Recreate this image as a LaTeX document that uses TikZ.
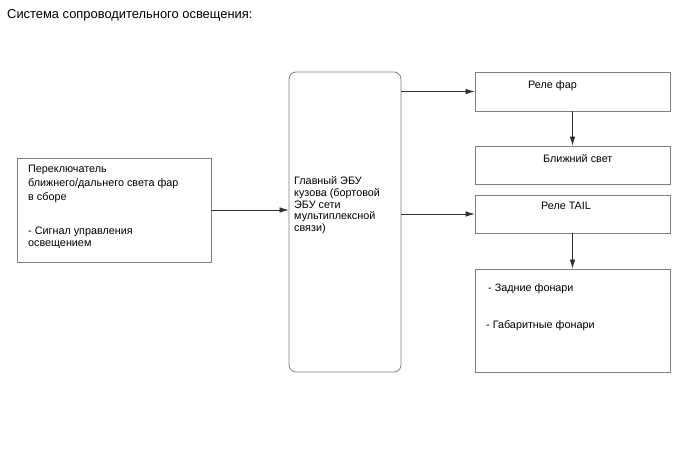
\documentclass[tikz,border=0pt]{standalone}
\usepackage{fontspec}
\setmainfont{Liberation Sans}
\usetikzlibrary{arrows.meta}
\definecolor{boxgray}{HTML}{808080}
\definecolor{linegray}{HTML}{303030}
\begin{document}
\begin{tikzpicture}[x=1pt,y=-1pt,
  box/.style={draw=boxgray, line width=0.8pt, inner sep=0pt, fill=white},
  conn/.style={draw=linegray, line width=0.7pt, -{Latex[length=9pt,width=5.5pt]}},
  txt/.style={font=\fontsize{10.8}{11.7}\selectfont, inner sep=0pt, anchor=base west, align=left},
  ]
\useasboundingbox[fill=white] (0,0) rectangle (688,463);

\node[inner sep=0pt, anchor=base west, font=\fontsize{12.9}{14}\selectfont] (title) at (7,19) {Система сопроводительного освещения:};

\node[box, minimum width=194pt, minimum height=104pt] (sw) at (114,210) {};
\node[box, rounded corners=7pt, minimum width=112pt, minimum height=300pt] (ecu) at (345,222) {};
\node[box, minimum width=195pt, minimum height=39pt] (hr) at (572.5,91.5) {};
\node[box, minimum width=195pt, minimum height=38pt] (lb) at (572.5,165) {};
\node[box, minimum width=195pt, minimum height=38pt] (tr) at (572.5,214) {};
\node[box, minimum width=195pt, minimum height=103pt] (tl) at (572.5,320.5) {};

\node[txt] (swt1) at (28,172) {Переключатель};
\node[txt] (swt2) at (28,186) {ближнего/дальнего света фар};
\node[txt] (swt3) at (28,200) {в сборе};
\node[txt] (swt4) at (28,234) {- Сигнал управления};
\node[txt] (swt5) at (28,246) {освещением};

\node[txt] (ecut) at (294,231.5) {Главный ЭБУ\\кузова (бортовой\\ЭБУ сети\\мультиплексной\\связи)};

\node[txt] (hrt) at (528,88) {Реле фар};
\node[txt] (lbt) at (543,162) {Ближний свет};
\node[txt] (trt) at (541,209) {Реле TAIL};
\node[txt] (tlt1) at (488,291) {- Задние фонари};
\node[txt] (tlt2) at (486,328) {- Габаритные фонари};

\draw[conn] (sw.east) -- (ecu.west |- sw.east);
\draw[conn] (ecu.east |- hr.west) -- (hr.west);
\draw[conn] (ecu.east |- tr.west) -- (tr.west);
\draw[conn] (hr.south) -- (lb.north);
\draw[conn] (tr.south) -- (tl.north);
\end{tikzpicture}
\end{document}
